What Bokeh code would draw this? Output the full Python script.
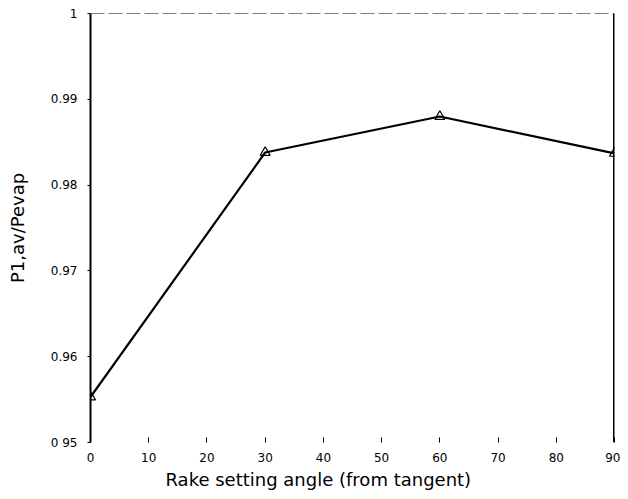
from bokeh.plotting import figure
from bokeh.models import Span, FixedTicker, Range1d, Title
from bokeh.embed import file_html
from bokeh.resources import INLINE

angles = [0, 30, 60, 90]
ratio = [0.9553, 0.9838, 0.9880, 0.9837]
x_ticks = [0, 10, 20, 30, 40, 50, 60, 70, 80, 90]
y_ticks = [0.95, 0.96, 0.97, 0.98, 0.99, 1.0]
y_labels = {0.95: "0 95", 0.96: "0.96", 0.97: "0.97", 0.98: "0.98", 0.99: "0.99", 1.0: "1"}
x_title = "Rake setting angle (from tangent)"
y_title = "P1,av/Pevap"

FONT = "DejaVu Sans"

p = figure(width=620, height=491, output_backend="svg", toolbar_location=None,
           x_range=Range1d(0, 90), y_range=Range1d(0.95, 1.0),
           min_border_left=90, min_border_right=6, min_border_top=13, min_border_bottom=0)

p.outline_line_color = None
p.grid.visible = False
p.background_fill_color = "white"

p.line(angles, ratio, line_color="black", line_width=2.2)
p.scatter(angles, ratio, marker="triangle", size=10, fill_color=None,
          line_color="black", line_width=1.2)

p.add_layout(Span(location=90, dimension="height", line_color="black", line_width=3))
p.add_layout(Span(location=1.0, dimension="width", line_color="black", line_width=1.2,
                  line_dash="14 4"))

p.xaxis.ticker = FixedTicker(ticks=x_ticks)
p.yaxis.ticker = FixedTicker(ticks=y_ticks)
p.yaxis.major_label_overrides = y_labels
p.xaxis.axis_line_color = None
p.xaxis.major_tick_in = 5
p.xaxis.major_tick_out = 0
p.yaxis.major_tick_in = 0
p.yaxis.major_tick_out = 3
p.yaxis.axis_line_width = 2
p.xaxis.minor_tick_line_color = None
p.yaxis.minor_tick_line_color = None

p.yaxis.axis_label = y_title
for ax in (p.xaxis, p.yaxis):
    ax.major_label_text_font = FONT
    ax.major_label_text_font_size = "12px"
    ax.major_label_text_color = "black"
    ax.axis_label_text_font = FONT
    ax.axis_label_text_font_size = "18px"
    ax.axis_label_text_font_style = "normal"
    ax.axis_label_text_color = "black"
p.xaxis.major_label_standoff = 10
p.yaxis.major_label_standoff = 10
p.yaxis.axis_label_standoff = 20

t = Title(text=x_title, align="left", offset=75, text_font=FONT,
          text_font_size="18px", text_font_style="normal", text_color="black",
          standoff=4)
p.add_layout(t, "below")

open("out.html", "w").write(file_html(p, INLINE))
